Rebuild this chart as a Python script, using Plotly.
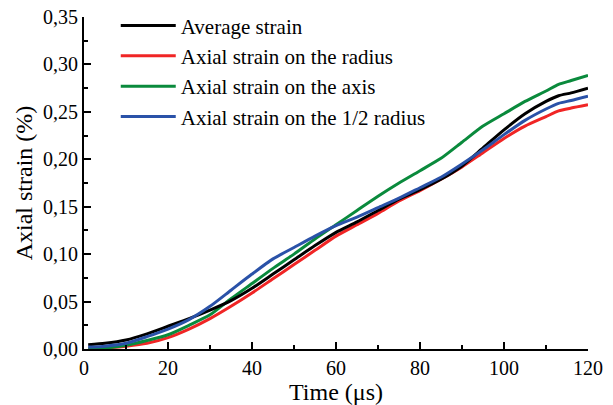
import plotly.graph_objects as go

t = [1, 5, 10, 15, 20, 25, 30, 35, 40, 45, 50, 55, 60, 65, 70, 75, 80, 85, 90, 95, 100, 105, 110, 113, 116, 120]

avg = [0.0045, 0.006, 0.0095, 0.016, 0.024, 0.032, 0.041, 0.051, 0.064, 0.079, 0.094, 0.109, 0.123, 0.134, 0.146, 0.158, 0.168, 0.179, 0.193, 0.212, 0.231, 0.248, 0.261, 0.267, 0.270, 0.275]
radius = [0.0, 0.001, 0.003, 0.006, 0.012, 0.021, 0.032, 0.045, 0.059, 0.074, 0.089, 0.104, 0.119, 0.131, 0.143, 0.156, 0.167, 0.179, 0.192, 0.207, 0.222, 0.235, 0.245, 0.251, 0.254, 0.2575]
axis = [0.0, 0.001, 0.004, 0.009, 0.015, 0.025, 0.036, 0.053, 0.069, 0.085, 0.100, 0.116, 0.131, 0.146, 0.161, 0.175, 0.188, 0.201, 0.218, 0.235, 0.248, 0.261, 0.272, 0.279, 0.283, 0.2885]
half = [0.002, 0.003, 0.006, 0.013, 0.021, 0.031, 0.045, 0.062, 0.079, 0.095, 0.107, 0.119, 0.130, 0.139, 0.149, 0.159, 0.170, 0.181, 0.195, 0.210, 0.226, 0.241, 0.253, 0.259, 0.262, 0.2665]

names = ["Average strain", "Axial strain on the radius", "Axial strain on the axis", "Axial strain on the 1/2 radius"]
colors = ["#000000", "#f02525", "#0a8a3c", "#2a52a8"]
series = [avg, radius, axis, half]

fig = go.Figure()
order = [1, 2, 0, 3]
for i in order:
    fig.add_trace(go.Scatter(x=t, y=series[i], mode="lines", name=names[i],
                             line=dict(color=colors[i], width=3, shape="spline", smoothing=0.6),
                             legendrank=i + 1))

font_family = "Liberation Serif, Times New Roman, serif"
fig.update_layout(
    width=613, height=405,
    margin=dict(l=84, r=25, t=17, b=56, autoexpand=False),
    paper_bgcolor="white", plot_bgcolor="white",
    separators=",.",
    font=dict(family=font_family, size=20, color="black"),
    showlegend=True,
    legend=dict(x=0.063, y=1.035, xanchor="left", yanchor="top",
                bgcolor="rgba(0,0,0,0)", font=dict(size=21),
                itemwidth=55, traceorder="normal"),
    xaxis=dict(range=[0, 120], tickvals=[0, 20, 40, 60, 80, 100, 120],
               ticks="inside", ticklen=7, tickwidth=2, tickcolor="black",
               minor=dict(dtick=10, tick0=0, ticks="inside", ticklen=4, tickwidth=2, tickcolor="black"),
               showline=True, linewidth=2, linecolor="black", showgrid=False, zeroline=False,
               title=dict(text="Time (μs)", standoff=0), mirror=False, automargin=False),
    yaxis=dict(range=[0, 0.35], tickvals=[0, 0.05, 0.10, 0.15, 0.20, 0.25, 0.30, 0.35],
               tickformat=".2f",
               ticks="inside", ticklen=7, tickwidth=2, tickcolor="black",
               minor=dict(dtick=0.025, tick0=0, ticks="inside", ticklen=4, tickwidth=2, tickcolor="black"),
               showline=True, linewidth=2, linecolor="black", showgrid=False, zeroline=False,
               title=dict(text="Axial strain (%)", standoff=4), mirror=False, automargin=False),
)

fig.write_html("out.html")
